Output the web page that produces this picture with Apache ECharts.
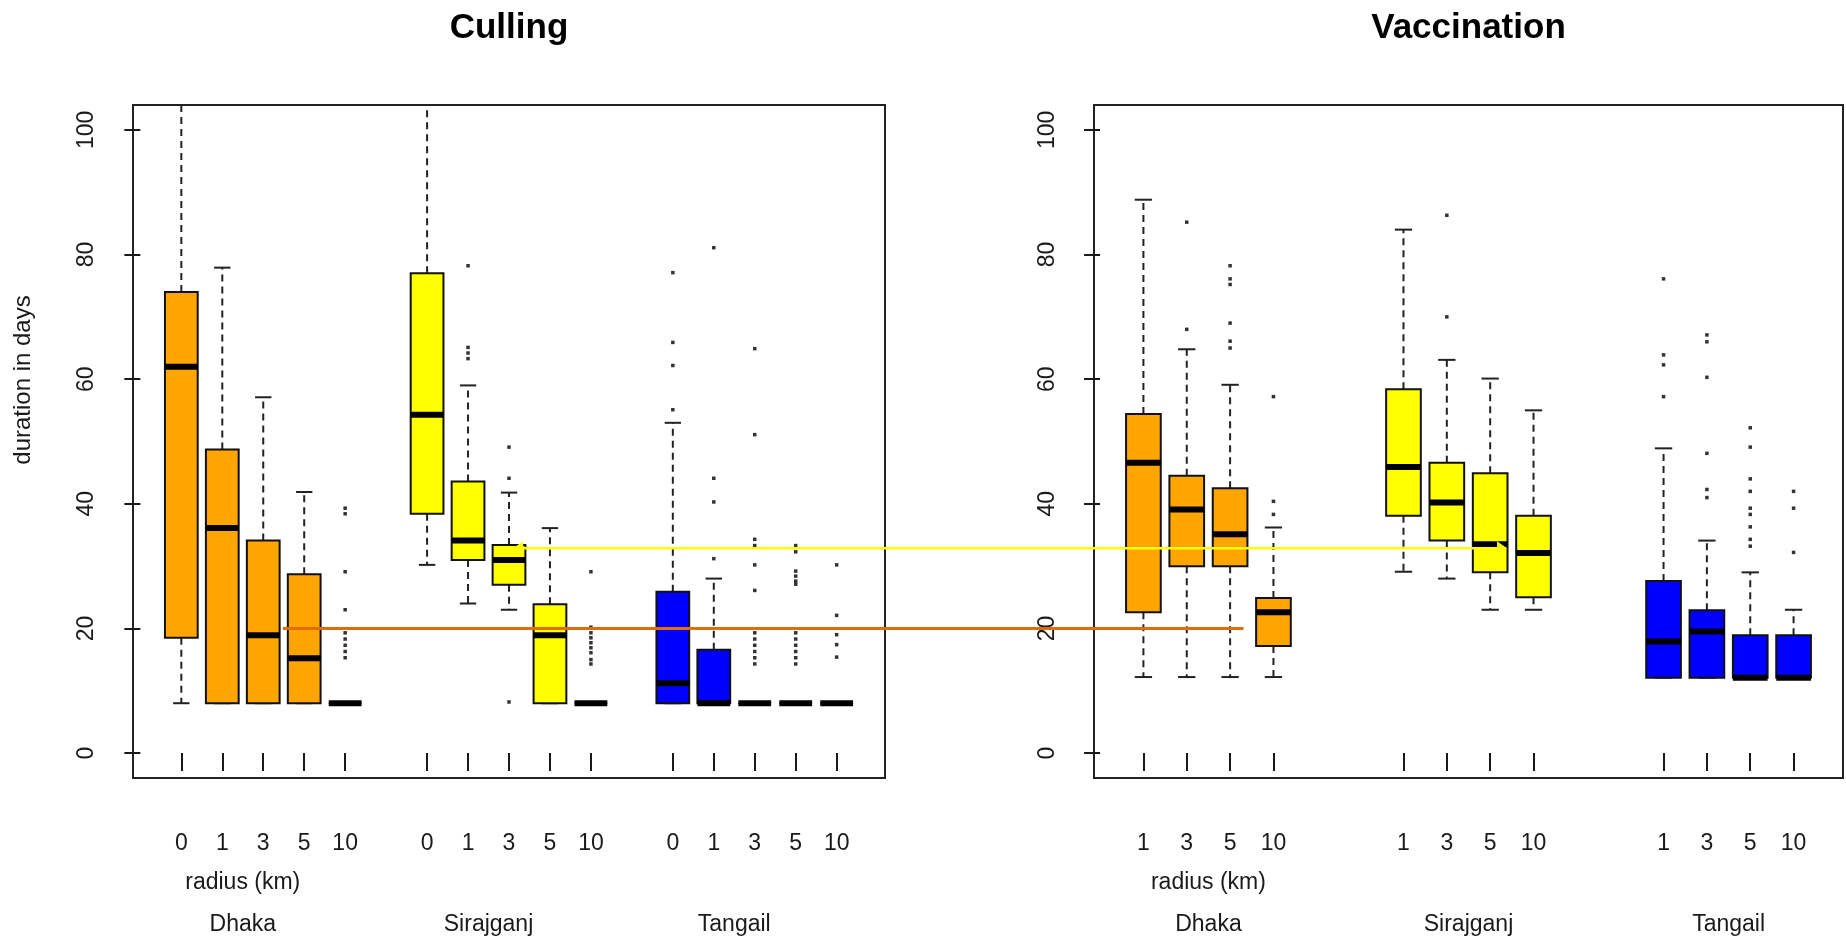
<!DOCTYPE html>
<html><head><meta charset="utf-8">
<script src="https://cdn.jsdelivr.net/npm/echarts@6/dist/echarts.min.js"></script>
<style>html,body{margin:0;padding:0;background:#fff}#c{width:1846px;height:943px}</style>
</head><body><div id="c"></div>
<script>
// ---------- data ----------
const districts = ['Dhaka', 'Sirajganj', 'Tangail'];
const districtColors = ['#FFA500', '#FFFF00', '#0000FF'];
const districtLabelPos = [2.5, 8.5, 14.5];
const radiusTitlePos = [2.5];
const yTicks = [0, 20, 40, 60, 80, 100];

// Culling panel
const cullPositions = [1, 2, 3, 4, 5, 7, 8, 9, 10, 11, 13, 14, 15, 16, 17];
const cullRadius = ['0', '1', '3', '5', '10', '0', '1', '3', '5', '10', '0', '1', '3', '5', '10'];
const cullDistrict = [0, 0, 0, 0, 0, 1, 1, 1, 1, 1, 2, 2, 2, 2, 2];
const cullLow  = [8, 8, 8, 8, 8, 30.2, 24, 23, 8, 8, 8, 8, 8, 8, 8];
const cullQ1   = [18.5, 8, 8, 8, 8, 38.4, 31, 27, 8, 8, 8, 8, 8, 8, 8];
const cullMed  = [62, 36.1, 18.9, 15.2, 8, 54.3, 34.1, 31, 18.9, 8, 11.2, 8, 8, 8, 8];
const cullQ3   = [74, 48.7, 34.1, 28.7, 8, 77, 43.6, 33.4, 23.9, 8, 25.9, 16.6, 8, 8, 8];
const cullHigh = [112, 77.9, 57.1, 41.9, 8, 112, 59, 41.8, 36.1, 8, 53, 28, 8, 8, 8];
const cullOutliers = [
  [], [], [], [],
  [39.3, 38.4, 29.1, 23, 19.3, 18.3, 17.3, 16.3, 15.3],
  [],
  [78.2, 65.1, 64.2, 63.3],
  [49.1, 44.1, 8.2],
  [],
  [29.1, 20.2, 19.3, 18.5, 17.7, 16.9, 16.1, 15, 14.3],
  [77.1, 65.9, 62.2, 55.1],
  [81.1, 44.1, 40.3, 31.2],
  [64.9, 51.1, 34.3, 33.3, 30.2, 26.1, 19.3, 18.3, 17.3, 16.3, 15.3, 14.3],
  [33.3, 32.3, 29.2, 28.4, 27.6, 27.1, 19.3, 18.3, 17.3, 16.3, 15.3, 14.3],
  [30.2, 22.1, 19, 17.4, 15.4]
];

// Vaccination panel
const vacPositions = [1, 2, 3, 4, 7, 8, 9, 10, 13, 14, 15, 16];
const vacRadius = ['1', '3', '5', '10', '1', '3', '5', '10', '1', '3', '5', '10'];
const vacDistrict = [0, 0, 0, 0, 1, 1, 1, 1, 2, 2, 2, 2];
const vacLow  = [12.2, 12.2, 12.2, 12.2, 29.1, 28, 23, 23, 12.1, 12.1, 12.1, 12.1];
const vacQ1   = [22.6, 30, 30, 17.2, 38.1, 34.1, 29, 25, 12.1, 12.1, 12.1, 12.1];
const vacMed  = [46.6, 39.1, 35.1, 22.6, 45.9, 40.2, 33.5, 32.1, 17.9, 19.5, 12.1, 12.1];
const vacQ3   = [54.4, 44.5, 42.5, 24.9, 58.4, 46.6, 44.9, 38.1, 27.6, 22.9, 18.9, 18.9];
const vacHigh = [88.8, 64.8, 59.1, 36.2, 84, 63.1, 60.1, 55, 48.9, 34.1, 29, 23];
const vacOutliers = [
  [],
  [85.2, 68],
  [78.2, 76.1, 75.2, 69, 66.1, 65],
  [57.2, 40.4, 38.3],
  [],
  [86.3, 70],
  [], [],
  [76.1, 63.9, 62.3, 57.2],
  [67.1, 66, 60.3, 48.1, 42.3, 41],
  [52.2, 49.1, 44, 42, 39.3, 38.3, 36.3, 34.3, 33.2],
  [42, 39.3, 32.2]
];

// reference lines (data coordinates of their end points)
const orangeRef = { value: 20, fromPanel: 0, fromX: 3.48, toPanel: 1, toX: 3.31 };
const yellowRef = { value: 32.85, fromPanel: 0, fromX: 9.1, toPanel: 1, toX: 9.39 };

// ---------- chart ----------
const FONT = "'Liberation Sans', Arial, Helvetica, sans-serif";
const INK = '#1a1a1a';

function boxData(pos, lo, q1, md, q3, hi, dist) {
  return pos.map((p, i) => [p, lo[i], q1[i], md[i], q3[i], hi[i], dist[i]]);
}
function outlierData(pos, outs) {
  const d = [];
  pos.forEach((p, i) => outs[i].forEach(v => d.push([p, v])));
  return d;
}

function renderBox(params, api) {
  const x = api.value(0);
  const lo = api.value(1), q1 = api.value(2), md = api.value(3), q3 = api.value(4), hi = api.value(5);
  const color = districtColors[api.value(6)];
  const hw = api.size([0.8, 0])[0] / 2;
  const sw = api.size([0.4, 0])[0] / 2;
  const pLo = api.coord([x, lo]), pQ1 = api.coord([x, q1]), pMd = api.coord([x, md]);
  const pQ3 = api.coord([x, q3]), pHi = api.coord([x, hi]);
  const cx = pMd[0];
  const dash = { stroke: '#222', lineWidth: 2, lineDash: [7, 5] };
  const solid = { stroke: '#222', lineWidth: 2 };
  const children = [];
  if (hi > q3) children.push({ type: 'line', shape: { x1: cx, y1: pQ3[1], x2: cx, y2: pHi[1] }, style: dash });
  if (lo < q1) children.push({ type: 'line', shape: { x1: cx, y1: pQ1[1], x2: cx, y2: pLo[1] }, style: dash });
  children.push({ type: 'line', shape: { x1: cx - sw, y1: pHi[1], x2: cx + sw, y2: pHi[1] }, style: solid });
  children.push({ type: 'line', shape: { x1: cx - sw, y1: pLo[1], x2: cx + sw, y2: pLo[1] }, style: solid });
  children.push({ type: 'rect', shape: { x: cx - hw, y: pQ3[1], width: 2 * hw, height: pQ1[1] - pQ3[1] },
    style: { fill: color, stroke: '#111', lineWidth: 2 } });
  children.push({ type: 'line', shape: { x1: cx - hw, y1: pMd[1], x2: cx + hw, y2: pMd[1] },
    style: { stroke: '#000', lineWidth: 6 } });
  return { type: 'group', children };
}

const gridL = { left: 133, top: 105, width: 752, height: 673 };
const gridR = { left: 1094, top: 105, width: 749, height: 673 };
const xRangeL = [-0.18, 18.18];
const xRangeR = [-0.14, 17.14];

function mainX(gridIndex, range, positions, labels) {
  return {
    type: 'value', gridIndex, position: 'bottom', min: range[0], max: range[1],
    axisLine: { show: false }, splitLine: { show: false },
    axisTick: { show: true, inside: false, length: 18, customValues: positions, lineStyle: { color: INK, width: 2 } },
    axisLabel: { show: true, customValues: positions, margin: 54, fontSize: 23, fontFamily: FONT, color: INK,
      formatter: v => { const i = positions.indexOf(v); return i >= 0 ? labels[i] : ''; } }
  };
}
function labelX(gridIndex, range, positions, labels, margin) {
  return {
    type: 'value', gridIndex, position: 'bottom', min: range[0], max: range[1],
    axisLine: { show: false }, splitLine: { show: false }, axisTick: { show: false },
    axisLabel: { show: true, customValues: positions, margin, fontSize: 23, fontFamily: FONT, color: INK,
      formatter: v => { const i = positions.indexOf(v); return i >= 0 ? labels[i] : ''; } }
  };
}
function mainY(gridIndex) {
  return {
    type: 'value', gridIndex, min: -4, max: 104,
    axisLine: { show: false }, splitLine: { show: false },
    axisTick: { show: true, inside: false, length: 16, customValues: yTicks, lineStyle: { color: INK, width: 2 } },
    axisLabel: { show: true, customValues: yTicks, rotate: 90, margin: 35, fontSize: 23, fontFamily: FONT, color: INK }
  };
}

const chart = echarts.init(document.getElementById('c'), null, { renderer: 'canvas' });
const gridStyle = { show: true, borderColor: '#222', borderWidth: 2, backgroundColor: 'rgba(0,0,0,0)', containLabel: false, outerBoundsMode: 'none' };

chart.setOption({
  animation: false,
  backgroundColor: '#ffffff',
  grid: [Object.assign({}, gridL, gridStyle), Object.assign({}, gridR, gridStyle)],
  xAxis: [
    mainX(0, xRangeL, cullPositions, cullRadius),
    labelX(0, xRangeL, radiusTitlePos, ['radius (km)'], 93),
    labelX(0, xRangeL, districtLabelPos, districts, 135),
    mainX(1, xRangeR, vacPositions, vacRadius),
    labelX(1, xRangeR, radiusTitlePos, ['radius (km)'], 93),
    labelX(1, xRangeR, districtLabelPos, districts, 135)
  ],
  yAxis: [mainY(0), mainY(1)],
  series: [
    { type: 'custom', xAxisIndex: 0, yAxisIndex: 0, clip: true, renderItem: renderBox,
      dimensions: ['x', 'lo', 'q1', 'md', 'q3', 'hi', 'd'], encode: { x: 0, y: [1, 2, 3, 4, 5] },
      data: boxData(cullPositions, cullLow, cullQ1, cullMed, cullQ3, cullHigh, cullDistrict), z: 2 },
    { type: 'scatter', xAxisIndex: 0, yAxisIndex: 0, symbol: 'rect', symbolSize: 3.5,
      itemStyle: { color: '#000' }, data: outlierData(cullPositions, cullOutliers), z: 3 },
    { type: 'custom', xAxisIndex: 3, yAxisIndex: 1, clip: true, renderItem: renderBox,
      dimensions: ['x', 'lo', 'q1', 'md', 'q3', 'hi', 'd'], encode: { x: 0, y: [1, 2, 3, 4, 5] },
      data: boxData(vacPositions, vacLow, vacQ1, vacMed, vacQ3, vacHigh, vacDistrict), z: 2 },
    { type: 'scatter', xAxisIndex: 3, yAxisIndex: 1, symbol: 'rect', symbolSize: 3.5,
      itemStyle: { color: '#000' }, data: outlierData(vacPositions, vacOutliers), z: 3 }
  ]
});

function px(panel, x, y) {
  return chart.convertToPixel({ seriesIndex: panel === 0 ? 0 : 2 }, [x, y]);
}
const oA = px(orangeRef.fromPanel, orangeRef.fromX, orangeRef.value);
const oB = px(orangeRef.toPanel, orangeRef.toX, orangeRef.value);
const yA = px(yellowRef.fromPanel, yellowRef.fromX, yellowRef.value);
const yB = px(yellowRef.toPanel, yellowRef.toX, yellowRef.value);

chart.setOption({
  graphic: [
    { type: 'text', x: gridL.left + gridL.width / 2, y: 28, z: 100,
      style: { text: 'Culling', font: "bold 35px " + FONT, fill: '#000', align: 'center', verticalAlign: 'middle' } },
    { type: 'text', x: gridR.left + gridR.width / 2, y: 28, z: 100,
      style: { text: 'Vaccination', font: "bold 35px " + FONT, fill: '#000', align: 'center', verticalAlign: 'middle' } },
    { type: 'text', x: 23, y: 380, rotation: Math.PI / 2, z: 100,
      style: { text: 'duration in days', font: "24px " + FONT, fill: INK, align: 'center', verticalAlign: 'middle' } },
    { type: 'line', z: 100, shape: { x1: oA[0], y1: oA[1], x2: oB[0], y2: oB[1] },
      style: { stroke: '#E36C0A', lineWidth: 3 } },
    { type: 'line', z: 100, shape: { x1: yA[0] + 8, y1: yA[1], x2: yB[0] - 8, y2: yB[1] },
      style: { stroke: '#FFFF00', lineWidth: 2.5 } },
    { type: 'polygon', z: 100, shape: { points: [[yA[0], yA[1]], [yA[0] + 10, yA[1] - 7], [yA[0] + 10, yA[1] + 1]] },
      style: { fill: '#FFFF00' } },
    { type: 'polygon', z: 100, shape: { points: [[yB[0], yB[1]], [yB[0] - 10, yB[1] - 7], [yB[0] - 10, yB[1] + 1]] },
      style: { fill: '#FFFF00' } }
  ]
});
</script>
</body></html>
